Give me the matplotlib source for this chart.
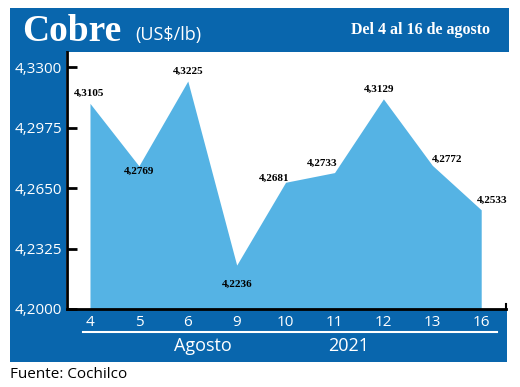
import matplotlib
matplotlib.use("Agg")
import matplotlib.pyplot as plt
from matplotlib.patches import Rectangle
from matplotlib.lines import Line2D

# ---- data ----
dias = ["4", "5", "6", "9", "10", "11", "12", "13", "16"]
precios = [4.3105, 4.2769, 4.3225, 4.2236, 4.2681, 4.2733, 4.3129, 4.2772, 4.2533]
etiquetas = ["4,3105", "4,2769", "4,3225", "4,2236", "4,2681", "4,2733", "4,3129", "4,2772", "4,2533"]
yticks = [4.2000, 4.2325, 4.2650, 4.2975, 4.3300]
ytick_labels = ["4,2000", "4,2325", "4,2650", "4,2975", "4,3300"]
titulo = "Cobre"
unidad = "(US$/lb)"
periodo = "Del 4 al 16 de agosto"
mes = "Agosto"
anio = "2021"
fuente = "Fuente: Cochilco"

# label offsets (pixels)
offsets = [(-1, 10), (0, -5), (0, 10), (0, -19), (-11, 4), (-12, 9), (-4, 10), (15, 6), (11, 10)]

DARK = "#0966ad"
LIGHT = "#55b3e4"
SANS = "Open Sans"
SERIF = "Liberation Serif"

W, H = 520, 387
fig = plt.figure(figsize=(W / 100, H / 100), dpi=100)
fig.patch.set_facecolor("white")

def fx(x):
    return x / W

def fy(y):
    return 1 - y / H

def rect(x0, y0, x1, y1):
    r = Rectangle((fx(x0), fy(y1)), fx(x1) - fx(x0), fy(y0) - fy(y1),
                  transform=fig.transFigure, facecolor=DARK, edgecolor="none", zorder=-5)
    fig.add_artist(r)

rect(10, 8, 509, 52)
rect(10, 52, 66, 362)
rect(10, 309, 507, 362)

ax = fig.add_axes([fx(67), fy(309), fx(506) - fx(67), fy(52) - fy(309)])
ax.set_facecolor("white")
x = list(range(len(dias)))
ax.fill_between(x, precios, 4.2, color=LIGHT, linewidth=0, zorder=2)
ax.set_xlim(-0.47, 8.507)
ax.set_ylim(4.2, 4.3381)
ax.set_yticks(yticks)
ax.set_yticklabels(ytick_labels)
ax.set_xticks(x)
ax.set_xticklabels(dias)
for s in ["top", "right"]:
    ax.spines[s].set_visible(False)
for s in ["left", "bottom"]:
    ax.spines[s].set_linewidth(2)
    ax.spines[s].set_color("black")
    ax.spines[s].set_zorder(5)
ax.tick_params(axis="y", direction="in", length=7.5, width=2, color="black",
               labelcolor="white", labelsize=11, pad=3.5)
ax.tick_params(axis="x", length=0, labelcolor="white", labelsize=11, pad=4.5)
for lab in ax.get_xticklabels() + ax.get_yticklabels():
    lab.set_fontfamily(SANS)
ax.plot([1, 1], [0, 0.018], transform=ax.transAxes, color="black", lw=1.5,
        clip_on=False, zorder=6)

for xi, yi, t, (dx, dy) in zip(x, precios, etiquetas, offsets):
    ax.annotate(t, (xi, yi), xytext=(dx, dy), textcoords="offset pixels",
                ha="center", va="center", fontsize=8, fontweight="bold",
                family=SERIF, color="black", zorder=7)

# header texts
fig.text(fx(22), fy(41), titulo, color="white", fontsize=27, fontweight="bold",
         family=SERIF, va="baseline", ha="left")
fig.text(fx(135), fy(40), unidad, color="white", fontsize=13, family=SANS,
         va="baseline", ha="left")
fig.text(fx(490), fy(34), periodo, color="white", fontsize=11.5, fontweight="bold",
         family=SERIF, va="baseline", ha="right")

# bottom strip
fig.add_artist(Line2D([fx(83), fx(497)], [fy(332), fy(332)], color="white", lw=1.5,
                      transform=fig.transFigure))
fig.text(fx(203), fy(346), mes, color="white", fontsize=13, family=SANS,
         ha="center", va="center")
fig.text(fx(349), fy(346), anio, color="white", fontsize=13, family=SANS,
         ha="center", va="center")

fig.text(fx(10), fy(375), fuente, color="black", fontsize=11, family=SANS,
         ha="left", va="center")

fig.savefig("out.png", dpi=100)
